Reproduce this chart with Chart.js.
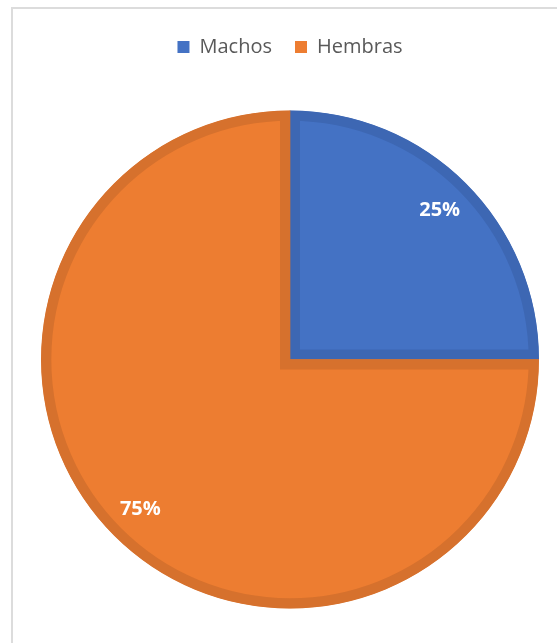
<!DOCTYPE html>
<html>
<head>
<meta charset="utf-8">
<script src="https://cdn.jsdelivr.net/npm/chart.js@4"></script>
<style>
  html, body { margin: 0; padding: 0; background: #fff; overflow: hidden; }
  #frame {
    position: absolute; left: 11px; top: 7px; width: 560px; height: 650px;
    border-left: 2px solid #dcdcdc; border-top: 2px solid #dcdcdc;
  }
  #wrap { position: absolute; left: 0; top: 0; width: 557px; height: 660px; }
</style>
</head>
<body>
<div id="frame"></div>
<div id="wrap"><canvas id="chart"></canvas></div>
<script>
const labels = ['Machos', 'Hembras'];
const values = [25, 75];
const fillColors = ['#4472C4', '#ED7D31'];
const edgeColors = ['#3D67B3', '#D6712D'];

// percentage text in the middle of each slice
const sliceLabels = {
    id: 'sliceLabels',
    afterDatasetsDraw(chart) {
        const ctx = chart.ctx;
        const meta = chart.getDatasetMeta(0);
        const total = values.reduce((a, b) => a + b, 0);
        ctx.save();
        ctx.font = 'bold 20px "Open Sans"';
        ctx.fillStyle = '#ffffff';
        ctx.textAlign = 'center';
        ctx.textBaseline = 'middle';
        meta.data.forEach((arc, i) => {
            const mid = (arc.startAngle + arc.endAngle) / 2;
            const r = arc.outerRadius * 0.85;
            const x = arc.x + Math.cos(mid) * r;
            const y = arc.y + Math.sin(mid) * r;
            ctx.fillText(Math.round(values[i] / total * 100) + '%', x, y);
        });
        ctx.restore();
    }
};

const ctx = document.getElementById('chart').getContext('2d');
const chart = new Chart(ctx, {
    type: 'pie',
    data: {
        labels: labels,
        datasets: [{
            data: values,
            backgroundColor: fillColors,
            borderColor: edgeColors,
            borderWidth: 10,
            borderAlign: 'inner',
            borderJoinStyle: 'miter',
            hoverOffset: 0,
            radius: 249
        }]
    },
    options: {
        responsive: true,
        maintainAspectRatio: false,
        animation: false,
        layout: { padding: { left: 41, right: 18, top: 14, bottom: 8 } },
        plugins: {
            tooltip: { enabled: false },
            legend: {
                position: 'top',
                labels: {
                    boxWidth: 12,
                    boxHeight: 12,
                    padding: 23,
                    color: '#595959',
                    font: { family: '"Open Sans"', size: 20 },
                    // plain squares, without the thick slice border
                    generateLabels: (chart) => labels.map((text, i) => ({
                        text: text,
                        fillStyle: fillColors[i],
                        strokeStyle: fillColors[i],
                        lineWidth: 0,
                        fontColor: '#595959',
                        hidden: false,
                        index: i
                    }))
                }
            }
        }
    },
    plugins: [sliceLabels]
});
</script>
</body>
</html>
